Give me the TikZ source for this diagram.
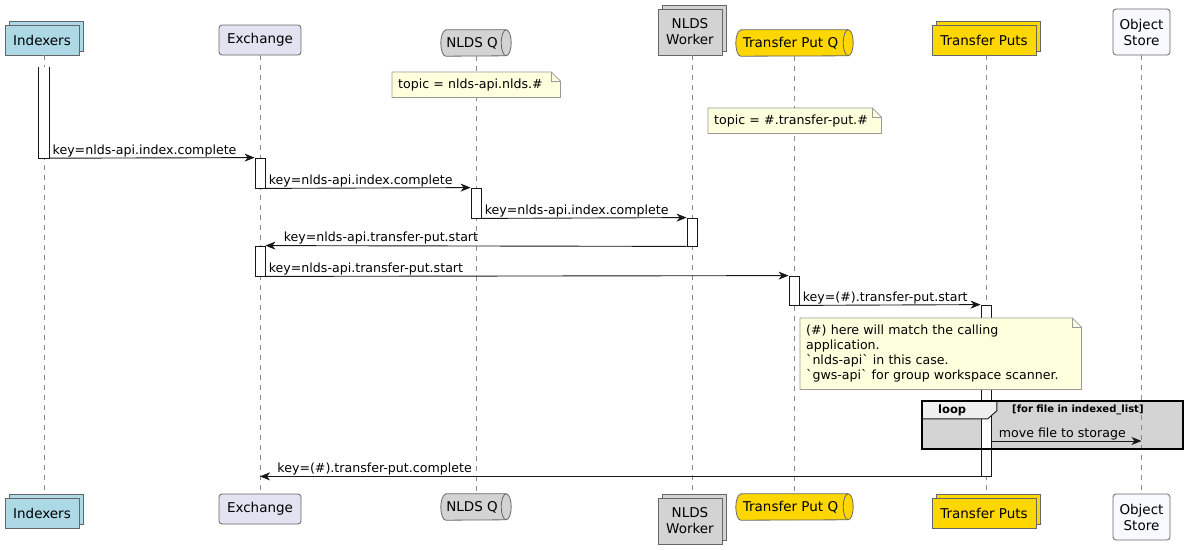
\documentclass[tikz,border=0pt]{standalone}
\usepackage{fontspec}
\setmainfont{DejaVu Sans}[Ligatures=TeXOff]
\usetikzlibrary{arrows.meta,shadows,backgrounds}
\definecolor{idxblue}{HTML}{ADD8E6}
\definecolor{exlav}{HTML}{E2E2F0}
\definecolor{lgray}{HTML}{D3D3D3}
\definecolor{goldc}{HTML}{FFD700}
\definecolor{osfill}{HTML}{F8F8FF}
\definecolor{pborder}{HTML}{666666}
\definecolor{lifecol}{HTML}{8A8A8A}
\definecolor{notefill}{HTML}{FEFFDD}
\definecolor{noteborder}{HTML}{999999}
\definecolor{loopfill}{HTML}{D4D4D4}
\definecolor{tabfill}{HTML}{EEEEEE}
\definecolor{ink}{HTML}{181818}
\newcommand\partfont{\fontsize{13.5}{16}\selectfont}
\newcommand\msgfont{\fontsize{12.6}{15}\selectfont}
\newcommand\queueshape[2]{%
  \draw[draw=pborder, line width=0.8pt, fill=#2] ([xshift=5pt]#1.north west) -- ([xshift=-5pt]#1.north east)
    arc[start angle=90, end angle=-90, x radius=5pt, y radius=13pt] -- ([xshift=5pt]#1.south west)
    arc[start angle=270, end angle=90, x radius=5pt, y radius=13pt] -- cycle;
  \draw[draw=pborder, line width=0.8pt] ([xshift=-5pt]#1.north east)
    arc[start angle=90, end angle=270, x radius=5pt, y radius=13pt];}
\newcommand\notedeco[1]{%
  \fill[white] ([xshift=-9pt]#1.north east) -- (#1.north east) -- ([yshift=-9pt]#1.north east) -- cycle;
  \draw[noteborder, line width=0.8pt] (#1.north west) -- ([xshift=-9pt]#1.north east) -- ([yshift=-9pt]#1.north east)
    -- (#1.south east) -- (#1.south west) -- cycle;
  \draw[noteborder, line width=0.8pt] ([xshift=-9pt]#1.north east) -- ([xshift=-9pt,yshift=-9pt]#1.north east)
    -- ([yshift=-9pt]#1.north east);}
\begin{document}
\begin{tikzpicture}[x=1pt, y=-1pt,
  part/.style={draw=pborder, line width=0.8pt, inner sep=0pt, font=\partfont, align=center},
  stackbox/.style={copy shadow={shadow xshift=4pt, shadow yshift=4pt, fill=#1, draw=pborder, line width=0.8pt}},
  queuenode/.style={inner sep=0pt, font=\partfont, minimum height=26pt},
  lifeline/.style={draw=lifecol, line width=0.7pt, dash pattern=on 5pt off 5pt},
  actbar/.style={draw=ink, fill=white, line width=0.8pt, minimum width=10pt, inner sep=0pt},
  msg/.style={draw=ink, line width=0.9pt, -{Stealth[length=10pt, width=8pt, inset=3pt]}},
  msglbl/.style={anchor=base west, inner sep=0pt, font=\msgfont, text=black, yshift=4pt},
  notebox/.style={fill=notefill, anchor=north west, inner xsep=6pt, inner ysep=0pt, font=\msgfont, align=left},
]
\useasboundingbox (0,0) rectangle (1186,549);
\begin{scope}[on background layer]
  \fill[white] (0,0) rectangle (1186,549);
\end{scope}

% participants top
\node[part, stackbox=idxblue, fill=idxblue, minimum width=74pt, minimum height=30pt] (idxT) at (42,40) {Indexers};
\node[part, fill=exlav, rounded corners=3pt, minimum width=82pt, minimum height=30pt] (exT) at (260,40) {Exchange};
\node[queuenode, minimum width=70pt] (nqT) at (476,43) {\hspace*{-8pt}NLDS Q};
\node[part, stackbox=lgray, fill=lgray, minimum width=64pt, minimum height=46pt] (nwT) at (690,32) {NLDS\\Worker};
\node[queuenode, minimum width=117pt] (tqT) at (794.5,43) {\hspace*{-8pt}Transfer Put Q};
\node[part, stackbox=goldc, fill=goldc, minimum width=104pt, minimum height=30pt] (tpT) at (984,40) {Transfer Puts};
\node[part, fill=osfill, rounded corners=3pt, minimum width=57pt, minimum height=46pt] (osT) at (1141.5,32) {Object\\Store};

% participants bottom
\node[part, stackbox=idxblue, fill=idxblue, minimum width=74pt, minimum height=30pt] (idxB) at (42,513) {Indexers};
\node[part, fill=exlav, rounded corners=3pt, minimum width=82pt, minimum height=30pt] (exB) at (260,509) {Exchange};
\node[queuenode, minimum width=70pt] (nqB) at (476,507) {\hspace*{-8pt}NLDS Q};
\node[part, stackbox=lgray, fill=lgray, minimum width=64pt, minimum height=46pt] (nwB) at (690,521) {NLDS\\Worker};
\node[queuenode, minimum width=117pt] (tqB) at (794.5,507) {\hspace*{-8pt}Transfer Put Q};
\node[part, stackbox=goldc, fill=goldc, minimum width=104pt, minimum height=30pt] (tpB) at (984,513) {Transfer Puts};
\node[part, fill=osfill, rounded corners=3pt, minimum width=57pt, minimum height=46pt] (osB) at (1141.5,517) {Object\\Store};

\begin{scope}[on background layer]
  \queueshape{nqT}{lgray}
  \queueshape{nqB}{lgray}
  \queueshape{tqT}{goldc}
  \queueshape{tqB}{goldc}
\end{scope}

% loop fill
\node[fill=loopfill, minimum width=261pt, minimum height=48pt, inner sep=0pt] (loopbox) at (1052.5,425) {};

% lifelines
\draw[lifeline] ([xshift=2pt]idxT.south) -- ([xshift=2pt,yshift=4pt]idxB.north);
\draw[lifeline] (exT.south) -- (exB.north);
\draw[lifeline] (nqT.south) -- (nqB.north);
\draw[lifeline] ([xshift=2pt]nwT.south) -- ([xshift=2pt,yshift=4pt]nwB.north);
\draw[lifeline] (tqT.south) -- (tqB.north);
\draw[lifeline] ([xshift=2pt]tpT.south) -- ([xshift=2pt,yshift=4pt]tpB.north);
\draw[lifeline] (osT.south) -- (osB.north);

% activation bars
\node[fill=white, minimum width=10pt, minimum height=91pt, inner sep=0pt] (idxact) at (44,112.5) {};
\draw[ink, line width=0.8pt] (idxact.north west) -- (idxact.south west) -- (idxact.south east) -- (idxact.north east);
\node[actbar, minimum height=30pt] (ex1) at (260,173) {};
\node[actbar, minimum height=30pt] (nq1) at (476,203) {};
\node[actbar, minimum height=28pt] (nw1) at (692,232) {};
\node[actbar, minimum height=30pt] (ex2) at (260,261) {};
\node[actbar, minimum height=29pt] (tq1) at (794,290.5) {};
\node[actbar, minimum height=171pt] (tp1) at (986,390.5) {};

% loop frame
\draw[ink, line width=0.9pt, fill=tabfill] (loopbox.north west) -- ++(75,0) -- ++(0,10) -- ++(-9,8) -- ([yshift=-18pt]loopbox.north west) -- cycle;
\draw[black, line width=1.6pt] (loopbox.north west) rectangle (loopbox.south east);
\node[anchor=west, inner sep=0pt, font=\bfseries\fontsize{11.5}{13}\selectfont] (looplbl) at (938,410) {loop};
\node[anchor=west, inner sep=0pt, font=\bfseries\fontsize{10}{12}\selectfont] (loopcond) at (1012,409.5) {[for file in indexed\_list]};

% messages
\draw[msg] (idxact.south east) -- (ex1.north west) node[msglbl, pos=0, xshift=3pt] {key=nlds-api.index.complete};
\draw[msg] (ex1.south east) -- (nq1.north west) node[msglbl, pos=0, xshift=3pt] {key=nlds-api.index.complete};
\draw[msg] (nq1.south east) -- (nw1.north west) node[msglbl, pos=0, xshift=3pt] {key=nlds-api.index.complete};
\draw[msg] (nw1.south west) -- (ex2.north east) node[msglbl, pos=1, xshift=18pt] {key=nlds-api.transfer-put.start};
\draw[msg] (ex2.south east) -- (tq1.north west) node[msglbl, pos=0, xshift=3pt] {key=nlds-api.transfer-put.start};
\draw[msg] (tq1.south east) -- (tp1.north west) node[msglbl, pos=0, xshift=3pt] {key=(\#).transfer-put.start};
\coordinate (loopy) at (0,441);
\draw[msg] (tp1.east |- loopy) -- (osT.south |- loopy) node[msglbl, pos=0, xshift=7pt] {move file to storage};
\draw[msg] (tp1.south west) -- (tp1.south west -| exT.south) node[msglbl, pos=1, xshift=17pt] {key=(\#).transfer-put.complete};

% notes
\node[notebox, minimum height=25pt, text width=156pt] (note1) at (392,72) {topic = nlds-api.nlds.\#};
\notedeco{note1}
\node[notebox, minimum height=25pt, text width=161pt] (note2) at (708,108) {topic = \#.transfer-put.\#};
\notedeco{note2}
\node[notebox, minimum height=71pt, text width=269pt] (note3) at (800,318)
  {\mbox{(\#) here will match the calling}\\\mbox{application.}\\\mbox{`nlds-api` in this case.}\\\mbox{`gws-api` for group workspace scanner.}};
\notedeco{note3}
\end{tikzpicture}
\end{document}
